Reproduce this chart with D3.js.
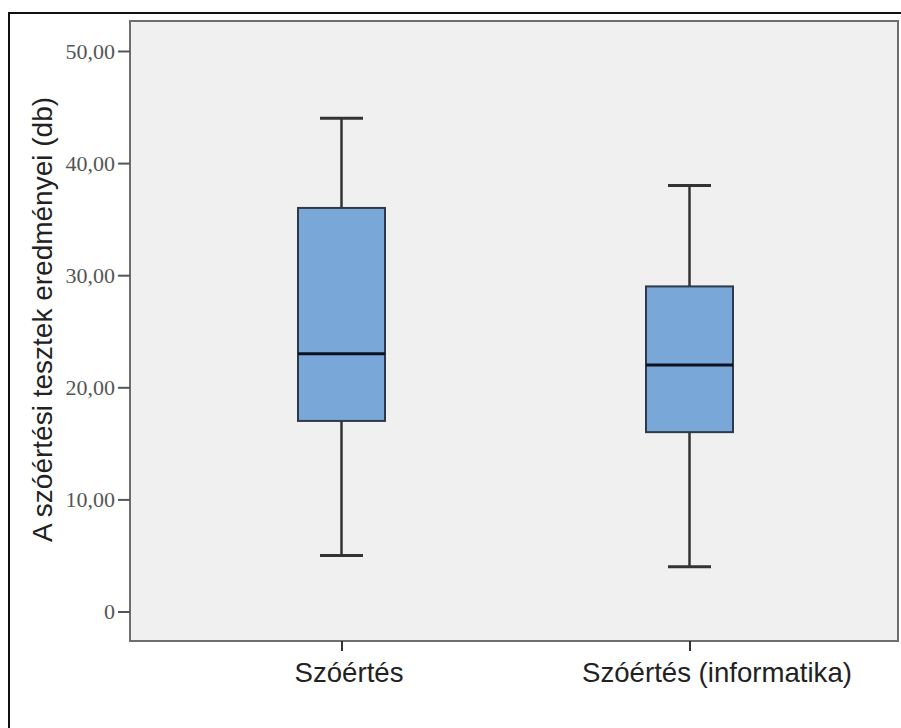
<!DOCTYPE html>
<html>
<head>
<meta charset="utf-8">
<script src="https://cdn.jsdelivr.net/npm/d3@7"></script>
<style>
  body { margin: 0; background: #fff; }
</style>
</head>
<body>
<div id="chart"></div>
<script>
// categories and five-number summaries
var categories = ["Szóértés", "Szóértés (informatika)"];
var whiskerLow = [5, 4];
var boxLow = [17, 16];
var medians = [23, 22];
var boxHigh = [36, 29];
var whiskerHigh = [44, 38];
var yTicks = [0, 10, 20, 30, 40, 50];
var yTitle = "A szóértési tesztek eredményei (db)";

var W = 901, H = 728;
var plot = {left: 130, top: 21, right: 898, bottom: 641};
var labelShift = [7, 27]; // category labels sit a little right of their ticks

var data = categories.map(function(c, i) {
	return {cat: c, lo: whiskerLow[i], q1: boxLow[i], med: medians[i], q3: boxHigh[i], hi: whiskerHigh[i]};
});

var svg = d3.select("#chart").append("svg")
	.attr("width", W)
	.attr("height", H);

// outer frame (runs off the right and bottom edge)
svg.append("rect")
	.attr("x", 9).attr("y", 13)
	.attr("width", 1000).attr("height", 1000)
	.style("fill", "#fff")
	.style("stroke", "#111")
	.style("stroke-width", 2);

var y = d3.scaleLinear()
	.domain([0, 50])
	.range([611.5, 51]);

var x = d3.scalePoint()
	.domain(categories)
	.range([341.5, 689.5]);

var boxW = 87, capW = 43;

// plot background
svg.append("rect")
	.attr("x", plot.left).attr("y", plot.top)
	.attr("width", plot.right - plot.left)
	.attr("height", plot.bottom - plot.top)
	.style("fill", "#f0f0f0")
	.style("stroke", "#6e6e6e")
	.style("stroke-width", 2);

// y axis
var yAxis = d3.axisLeft(y)
	.tickValues(yTicks)
	.tickSize(12)
	.tickPadding(3)
	.tickFormat(function(d) { return d === 0 ? "0" : d3.format(".2f")(d).replace(".", ","); });

var gy = svg.append("g")
	.attr("transform", "translate(" + plot.left + ",0)")
	.call(yAxis);
gy.select(".domain").remove();
gy.selectAll(".tick line").style("stroke", "#555").style("stroke-width", 2);
gy.selectAll(".tick text")
	.style("font-family", "'Liberation Serif', 'Times New Roman', serif")
	.style("font-size", "22px")
	.style("fill", "#555");

// x axis
var xAxis = d3.axisBottom(x).tickSize(10).tickPadding(8);
var gx = svg.append("g")
	.attr("transform", "translate(0," + plot.bottom + ")")
	.call(xAxis);
gx.select(".domain").remove();
gx.selectAll(".tick line").style("stroke", "#333").style("stroke-width", 2);
gx.selectAll(".tick text")
	.attr("dy", "0.85em")
	.attr("dx", function(d, i) { return labelShift[i]; })
	.style("font-family", "'Liberation Sans', Arial, sans-serif")
	.style("font-size", "27.6px")
	.style("fill", "#222");

// y title
svg.append("text")
	.attr("transform", "translate(52," + ((97 + 542) / 2) + ") rotate(-90)")
	.attr("text-anchor", "middle")
	.style("font-family", "'Liberation Sans', Arial, sans-serif")
	.style("font-size", "28px")
	.style("fill", "#222")
	.text(yTitle);

// boxes
var box = svg.selectAll(".box")
	.data(data)
	.join("g")
	.attr("class", "box");

// whiskers
box.append("line")
	.attr("x1", function(d) { return x(d.cat); })
	.attr("x2", function(d) { return x(d.cat); })
	.attr("y1", function(d) { return y(d.hi); })
	.attr("y2", function(d) { return y(d.lo); })
	.style("stroke", "#333")
	.style("stroke-width", 2.5);

box.selectAll(".cap")
	.data(function(d) { return [{cat: d.cat, v: d.hi}, {cat: d.cat, v: d.lo}]; })
	.join("line")
	.attr("class", "cap")
	.attr("x1", function(d) { return x(d.cat) - capW / 2; })
	.attr("x2", function(d) { return x(d.cat) + capW / 2; })
	.attr("y1", function(d) { return y(d.v); })
	.attr("y2", function(d) { return y(d.v); })
	.style("stroke", "#333")
	.style("stroke-width", 3);

box.append("rect")
	.attr("x", function(d) { return x(d.cat) - boxW / 2; })
	.attr("y", function(d) { return y(d.q3); })
	.attr("width", boxW)
	.attr("height", function(d) { return y(d.q1) - y(d.q3); })
	.style("fill", "#78a7d8")
	.style("stroke", "#2e3a48")
	.style("stroke-width", 2);

box.append("line")
	.attr("x1", function(d) { return x(d.cat) - boxW / 2; })
	.attr("x2", function(d) { return x(d.cat) + boxW / 2; })
	.attr("y1", function(d) { return y(d.med); })
	.attr("y2", function(d) { return y(d.med); })
	.style("stroke", "#0c1220")
	.style("stroke-width", 3);
</script>
</body>
</html>
